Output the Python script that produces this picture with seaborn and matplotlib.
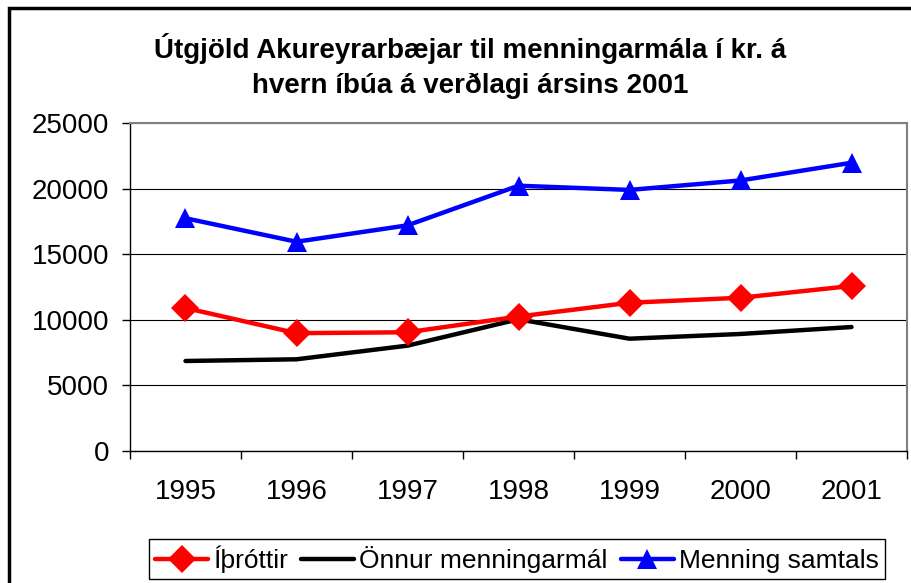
import matplotlib
matplotlib.use("Agg")
import matplotlib.pyplot as plt
import pandas as pd
import seaborn as sns
from matplotlib.patches import Rectangle

years = ["1995", "1996", "1997", "1998", "1999", "2000", "2001"]
ithrottir = [10900, 8980, 9050, 10250, 11300, 11680, 12580]
onnur = [6860, 6990, 8030, 10040, 8560, 8920, 9450]
samtals = [17740, 15950, 17200, 20220, 19900, 20620, 21970]
yticks = [0, 5000, 10000, 15000, 20000, 25000]

title = "Útgjöld Akureyrarbæjar til menningarmála í kr. á\nhvern íbúa á verðlagi ársins 2001"

sns.set_theme(style="white", rc={"text.color": "black", "xtick.color": "black",
                                 "ytick.color": "black"})
plt.rcParams["font.family"] = ["Liberation Sans", "DejaVu Sans"]

fig = plt.figure(figsize=(9.12, 5.83), dpi=100)
ax = fig.add_axes([130 / 912, 132 / 583, 777 / 912, 328 / 583])

x = list(range(len(years)))
sns.lineplot(x=x, y=ithrottir, color="#ff0000", lw=3.2, marker="D", markersize=14,
             markeredgewidth=0, label="Íþróttir", ax=ax, zorder=3)
sns.lineplot(x=x, y=onnur, color="black", lw=3.2, label="Önnur menningarmál",
             ax=ax, zorder=2)
sns.lineplot(x=x, y=samtals, color="#0000ff", lw=3.2, marker="^", markersize=15,
             markeredgewidth=0, label="Menning samtals", ax=ax, zorder=3)

ax.set_xlim(-0.5, len(years) - 0.5)
ax.set_ylim(0, 25000)
ax.set_yticks(yticks)
ax.set_yticklabels([str(v) for v in yticks], fontsize=20)
ax.set_xticks(x)
ax.set_xticklabels(years, fontsize=20)
ax.set_xticks([i - 0.5 for i in range(len(years) + 1)], minor=True)
ax.tick_params(axis="x", which="major", length=0, pad=20)
ax.tick_params(axis="x", which="minor", length=6, width=1, color="black",
               direction="out", bottom=True)
ax.tick_params(axis="y", length=6, width=1, color="black", direction="out",
               left=True, pad=9)
ax.grid(axis="y", color="black", lw=0.8)
ax.set_axisbelow(True)

for side in ["left", "bottom"]:
    ax.spines[side].set_color("black")
    ax.spines[side].set_linewidth(1)
for side in ["top", "right"]:
    ax.spines[side].set_color("#808080")
    ax.spines[side].set_linewidth(1.5)

fig.text(470 / 912, 1 - 66 / 583, title, ha="center", va="center",
         fontsize=20, fontweight="bold", linespacing=1.45)

ax.legend(loc="center", bbox_to_anchor=(517 / 912, 1 - 559 / 583),
          bbox_transform=fig.transFigure, ncol=3, fontsize=19, frameon=True,
          fancybox=False, edgecolor="black", framealpha=1, handlelength=2.0,
          handletextpad=0.2, columnspacing=0.5, borderpad=0.25)
ax.get_legend().get_frame().set_linewidth(1)

fig.patches.append(Rectangle((9 / 912, -0.1), 1.2, 1.1 - 8 / 583,
                             transform=fig.transFigure, fill=False,
                             edgecolor="black", lw=2.5, clip_on=False))

fig.savefig("out.png", dpi=100)
